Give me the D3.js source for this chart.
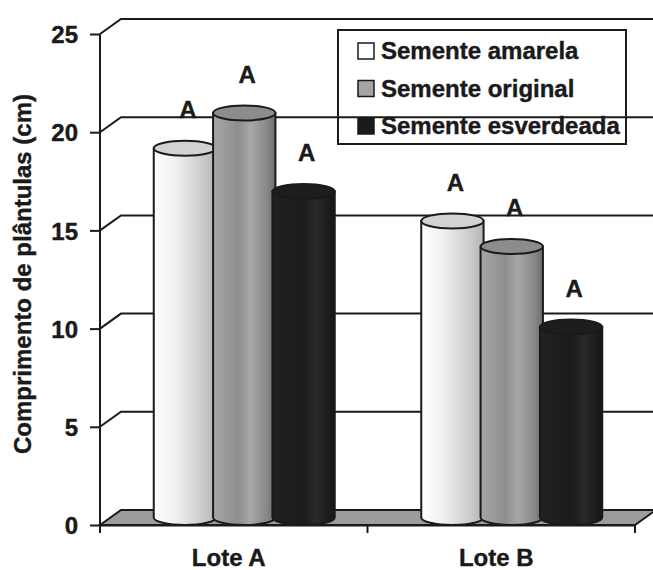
<!DOCTYPE html>
<html>
<head>
<meta charset="utf-8">
<script src="https://cdn.jsdelivr.net/npm/d3@7"></script>
<style>
  body { margin: 0; background: #fff; }
  text { font-family: "Liberation Sans", Arial, sans-serif; font-weight: bold; fill: #1a1a1a; stroke: #1a1a1a; stroke-width: 0.4px; }
</style>
</head>
<body>
<div id="chart"></div>
<script>
// data
var categories = ["Lote A", "Lote B"];
var series = ["Semente amarela", "Semente original", "Semente esverdeada"];
var amarela = [18.8, 15.1];
var original = [20.6, 13.8];
var esverdeada = [16.6, 9.7];
var letters = [["A", "A", "A"], ["A", "A", "A"]];
var yTicks = [0, 5, 10, 15, 20, 25];

var values = [amarela, original, esverdeada];

var W = 653, H = 570;
var depthX = 21, depthY = -15;   // 3d offset of the back wall
var ry = 7.5;                     // half height of the cylinder ellipses

var svg = d3.select("#chart")
  .append("svg")
    .attr("width", W)
    .attr("height", H);

var x0 = d3.scaleBand()
  .domain(categories)
  .range([100, 635]);

var x1 = d3.scaleBand()
  .domain(series)
  .range([-89, 89]);

var y = d3.scaleLinear()
  .domain([0, 25])
  .range([525, 34]);

// gradients for the cylinders
var defs = svg.append("defs");
var grads = [
  {id: "g0", stops: [[0, "#ffffff"], [0.35, "#f0f0f0"], [0.6, "#dcdcdc"], [0.85, "#c4c4c4"], [1, "#b4b4b4"]], top: "#d2d2d2"},
  {id: "g1", stops: [[0, "#a6a6a6"], [0.4, "#8e8e8e"], [0.6, "#a8a8a8"], [0.85, "#8a8a8a"], [1, "#6e6e6e"]], top: "#8c8c8c"},
  {id: "g2", stops: [[0, "#222020"], [0.5, "#1c1a1a"], [0.7, "#2a2828"], [1, "#161414"]], top: "#1e1c1c"}
];
grads.forEach(function(g) {
  var lg = defs.append("linearGradient").attr("id", g.id)
    .attr("x1", "0%").attr("x2", "100%").attr("y1", "0%").attr("y2", "0%");
  g.stops.forEach(function(s) {
    lg.append("stop").attr("offset", s[0]).attr("stop-color", s[1]);
  });
});

// back wall gridlines with the short diagonal to the front axis
var grid = svg.append("g");
yTicks.forEach(function(t) {
  if (t === 0) return;
  grid.append("path")
    .attr("d", "M100," + y(t) + "L" + (100 + depthX) + "," + (y(t) + depthY) + "L" + W + "," + (y(t) + depthY))
    .attr("fill", "none")
    .attr("stroke", "#1a1a1a")
    .attr("stroke-width", 2);
});

// floor
svg.append("path")
  .attr("d", "M100," + y(0) + "L" + (100 + depthX) + "," + (y(0) + depthY) +
             "L" + (635 + depthX) + "," + (y(0) + depthY) + "L635," + y(0) + "Z")
  .attr("fill", "#9c9c9c")
  .attr("stroke", "#1a1a1a")
  .attr("stroke-width", 2);

// Y axis
var yAxis = svg.append("g")
  .attr("transform", "translate(100,0)")
  .call(d3.axisLeft(y).tickValues(yTicks).tickSize(10).tickPadding(12));
yAxis.select(".domain").attr("stroke", "#1a1a1a").attr("stroke-width", 2)
  .attr("d", "M0,34V533");
yAxis.selectAll(".tick line").attr("stroke", "#1a1a1a").attr("stroke-width", 2);
yAxis.selectAll(".tick text")
  .style("font-size", "24px")
  .attr("dy", "0.36em");

// X axis ticks (category boundaries)
var xAxis = svg.append("g")
  .attr("transform", "translate(0," + y(0) + ")")
  .call(d3.axisBottom(x0).tickValues([]).tickSizeOuter(0));
xAxis.select(".domain").attr("stroke", "#1a1a1a").attr("stroke-width", 2);
categories.forEach(function(c) {
  xAxis.append("line")
    .attr("x1", x0(c) + x0.bandwidth()).attr("x2", x0(c) + x0.bandwidth())
    .attr("y1", 0).attr("y2", 8)
    .attr("stroke", "#1a1a1a").attr("stroke-width", 2);
});

// category labels
svg.selectAll(".catlabel")
  .data(categories)
  .enter()
  .append("text")
    .attr("class", "catlabel")
    .attr("x", function(d) { return x0(d) + x0.bandwidth() / 2 - 5; })
    .attr("y", 566)
    .attr("text-anchor", "middle")
    .style("font-size", "24px")
    .text(function(d) { return d; });

// Y axis label
svg.append("text")
  .attr("transform", "translate(31," + 274 + ") rotate(-90)")
  .attr("text-anchor", "middle")
  .style("font-size", "24px")
  .text("Comprimento de plântulas (cm)");

// cylinders
var bars = [];
categories.forEach(function(c, ci) {
  series.forEach(function(s, si) {
    bars.push({cat: c, ser: s, si: si, value: values[si][ci], letter: letters[ci][si]});
  });
});

var r = x1.bandwidth() / 2 + 1.5;
var cyl = svg.append("g").selectAll("g")
  .data(bars)
  .enter()
  .append("g");

function cx(d) { return x0(d.cat) + x0.bandwidth() / 2 + depthX / 2 + x1(d.ser) + x1.bandwidth() / 2; }

cyl.append("path")
  .attr("d", function(d) {
    var c = cx(d), top = y(d.value) + depthY / 2, bot = y(0) + depthY / 2;
    return "M" + (c - r) + "," + top + "L" + (c - r) + "," + bot +
           "A" + r + "," + ry + " 0 0 0 " + (c + r) + "," + bot +
           "L" + (c + r) + "," + top + "Z";
  })
  .attr("fill", function(d) { return "url(#g" + d.si + ")"; })
  .attr("stroke", "#1a1a1a")
  .attr("stroke-width", 2);

cyl.append("ellipse")
  .attr("cx", cx)
  .attr("cy", function(d) { return y(d.value) + depthY / 2; })
  .attr("rx", r)
  .attr("ry", ry)
  .attr("fill", function(d) { return grads[d.si].top; })
  .attr("stroke", "#1a1a1a")
  .attr("stroke-width", 2);

// letters above cylinders
svg.selectAll(".letter")
  .data(bars)
  .enter()
  .append("text")
    .attr("class", "letter")
    .attr("x", function(d) { return cx(d) + 3; })
    .attr("y", function(d) { return y(d.value) + depthY / 2 - 30; })
    .attr("text-anchor", "middle")
    .style("font-size", "24px")
    .text(function(d) { return d.letter; });

// legend
var legend = svg.append("g").attr("transform", "translate(338,30)");
legend.append("rect")
  .attr("width", 288).attr("height", 114)
  .attr("fill", "none")
  .attr("stroke", "#1a1a1a")
  .attr("stroke-width", 2);
var swatch = ["#ffffff", "#a4a4a4", "#1a1a1a"];
series.forEach(function(s, i) {
  var row = legend.append("g").attr("transform", "translate(0," + (21 + i * 37.5) + ")");
  row.append("rect")
    .attr("x", 20).attr("y", -8)
    .attr("width", 16).attr("height", 16)
    .attr("fill", swatch[i])
    .attr("stroke", "#1a1a1a")
    .attr("stroke-width", 1.5);
  row.append("text")
    .attr("x", 43).attr("y", 8)
    .style("font-size", "24px")
    .text(s);
});
</script>
</body>
</html>
